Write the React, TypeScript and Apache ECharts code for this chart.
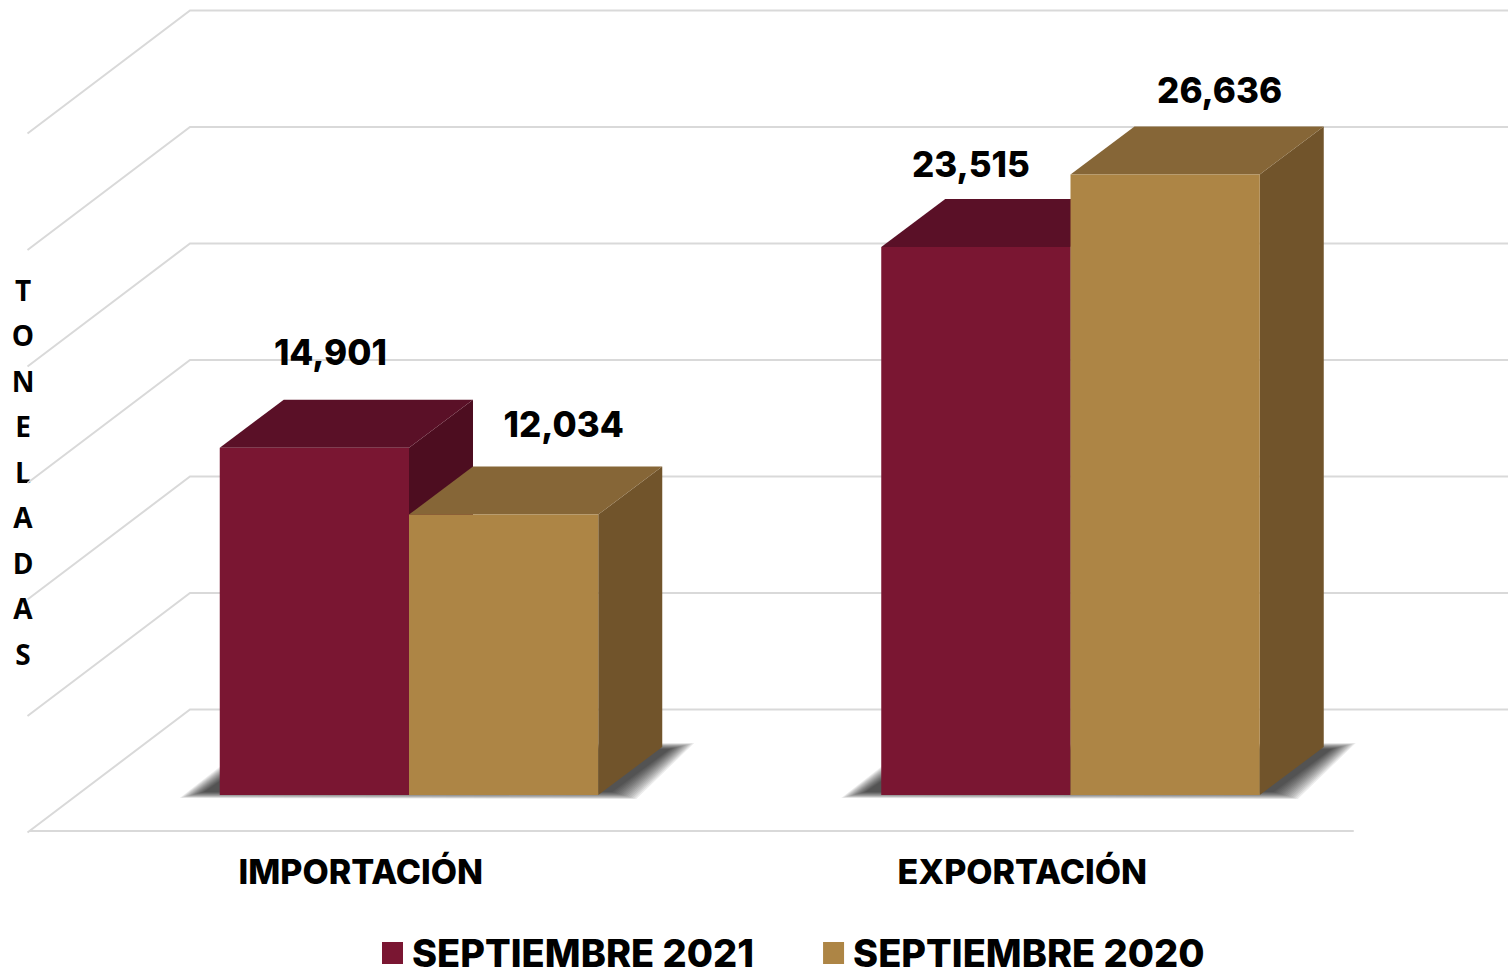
import React, { useEffect, useRef } from "react";
import * as echarts from "echarts";

const categories = ["IMPORTACIÓN", "EXPORTACIÓN"];
const seriesNames = ["SEPTIEMBRE 2021", "SEPTIEMBRE 2020"];
const values2021 = [14901, 23515];
const values2020 = [12034, 26636];
const tickValues = [0, 5000, 10000, 15000, 20000, 25000, 30000];
const yTitle = "TONELADAS";

const FONT = "Inter, 'Noto Sans', sans-serif";
const WALL_DX = 160;
const WALL_DY = 121.5;
const BAR_SHIFT_X = 48.25;
const BASE_SHIFT_Y = 36;
const BAR_W = 189.25;
const DEPTH_X = 64;
const DEPTH_Y = 48;
const SHADOW_LAYERS = 14;
const labelOffsets = [
  [[16, -96], [-5, -83]],
  [[60, -91], [54.5, -84]],
];
const palette = [
  { front: "#7a1632", top: "#5a1027", side: "#4d0d20" },
  { front: "#ad8545", top: "#866637", side: "#71542b" },
];

function renderWall(params: any, api: any) {
  const v = api.value(0);
  const cs = params.coordSys;
  const y = api.coord([0, v])[1];
  return {
    type: "polyline",
    shape: { points: [[cs.x - 2.5, y + 1.5], [cs.x + WALL_DX, y - WALL_DY], [1508, y - WALL_DY]] },
    style: { stroke: "#d9d9d9", lineWidth: 2, fill: "none" },
  };
}

function renderShadow(_params: any, api: any) {
  const c = api.value(0);
  const p = api.coord([c, 0]);
  const y = p[1] - BASE_SHIFT_Y;
  const l = p[0] + BAR_SHIFT_X - BAR_W;
  const r = p[0] + BAR_SHIFT_X + BAR_W;
  const children = [];
  for (let k = 0; k < SHADOW_LAYERS; k++) {
    const e = 20 * (1 - k / (SHADOW_LAYERS - 1));
    children.push({
      type: "polygon",
      shape: {
        points: [
          [l - 16 - e * 1.2, y - 3 + e * 0.3],
          [l + 44 - e * 0.8, y - 44 - e * 0.3],
          [r + 72 + e * 1.2, y - 46 - e * 0.3],
          [r + 14 + e * 1.2, y - 3 + e * 0.35],
        ],
      },
      style: { fill: "#000000", opacity: 0.073 },
    });
  }
  return { type: "group", children };
}

function makeBarRenderer(s: number) {
  return (_params: any, api: any) => {
    const c = api.value(0);
    const v = api.value(1);
    const p0 = api.coord([c, 0]);
    const pv = api.coord([c, v]);
    const base = p0[1] - BASE_SHIFT_Y;
    const top = pv[1] - BASE_SHIFT_Y;
    const l = p0[0] + BAR_SHIFT_X + (s === 0 ? -BAR_W : 0);
    const r = l + BAR_W;
    const col = palette[s];
    const off = labelOffsets[s][c];
    return {
      type: "group",
      children: [
        {
          type: "polygon",
          shape: { points: [[r, top], [r + DEPTH_X, top - DEPTH_Y], [r + DEPTH_X, base - DEPTH_Y], [r, base]] },
          style: { fill: col.side },
        },
        {
          type: "polygon",
          shape: { points: [[l, top], [l + DEPTH_X, top - DEPTH_Y], [r + DEPTH_X, top - DEPTH_Y], [r, top]] },
          style: { fill: col.top },
        },
        {
          type: "polygon",
          shape: { points: [[l, top], [r, top], [r, base], [l, base]] },
          style: { fill: col.front },
        },
        {
          type: "text",
          x: (l + r) / 2 + off[0],
          y: top + off[1],
          style: {
            text: v.toLocaleString("en-US"),
            font: `800 35px ${FONT}`,
            fill: "#000",
            align: "center",
            verticalAlign: "middle",
          },
        },
      ],
    };
  };
}

export default function App() {
  const ref = useRef<HTMLDivElement>(null);
  useEffect(() => {
    const chart = echarts.init(ref.current!, null, { renderer: "svg" });
    chart.setOption({
      animation: false,
      backgroundColor: "#ffffff",
      grid: { left: 30, right: 155, top: 132, bottom: 139 },
      xAxis: {
        type: "category",
        data: categories,
        axisTick: { show: false },
        axisLine: { lineStyle: { color: "#d9d9d9", width: 2 } },
        axisLabel: { color: "#000", fontFamily: FONT, fontWeight: 800, fontSize: 34, margin: 23 },
      },
      yAxis: {
        type: "value",
        min: 0,
        max: 30000,
        interval: 5000,
        axisLabel: { show: false },
        axisLine: { show: false },
        axisTick: { show: false },
        splitLine: { show: false },
      },
      legend: {
        data: seriesNames.map((name) => ({ name, icon: "rect" })),
        left: 382,
        top: 934,
        padding: 0,
        itemWidth: 21,
        itemHeight: 22,
        itemGap: 69,
        selectedMode: false,
        textStyle: { color: "#000", fontFamily: FONT, fontWeight: 800, fontSize: 38, lineHeight: 30, padding: [0, 0, 0, 4] },
      },
      graphic: [
        {
          type: "text",
          x: 23,
          y: 471.5,
          style: {
            text: yTitle.split("").join("\n"),
            font: "700 28px 'Open Sans', sans-serif",
            lineHeight: 45.5,
            fill: "#000",
            align: "center",
            verticalAlign: "middle",
          },
        },
      ],
      series: [
        {
          type: "custom",
          silent: true,
          renderItem: renderWall,
          encode: { y: 0 },
          data: tickValues.map((t) => [t]),
        },
        {
          type: "custom",
          silent: true,
          renderItem: renderShadow,
          data: categories.map((_, i) => [i]),
        },
        {
          type: "custom",
          name: seriesNames[0],
          itemStyle: { color: palette[0].front },
          renderItem: makeBarRenderer(0),
          encode: { x: 0, y: 1 },
          data: values2021.map((v, i) => [i, v]),
        },
        {
          type: "custom",
          name: seriesNames[1],
          itemStyle: { color: palette[1].front },
          renderItem: makeBarRenderer(1),
          encode: { x: 0, y: 1 },
          data: values2020.map((v, i) => [i, v]),
        },
      ],
    });
    return () => chart.dispose();
  }, []);
  return <div ref={ref} style={{ position: "fixed", left: 0, top: 0, width: 1508, height: 970 }} />;
}
